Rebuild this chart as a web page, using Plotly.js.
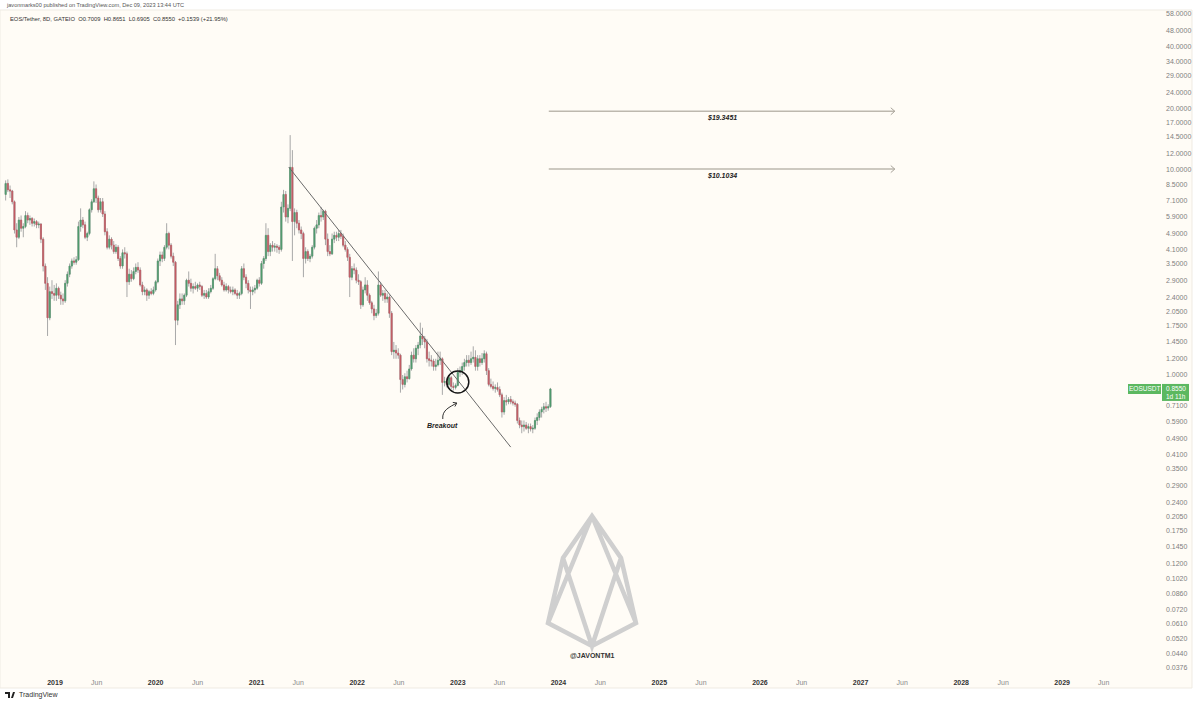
<!DOCTYPE html>
<html>
<head>
<meta charset="utf-8">
<script src="https://cdn.plot.ly/plotly-3.0.1.min.js"></script>
<style>html,body{margin:0;padding:0;background:#fff;}#chart{width:1200px;height:704px;}</style>
</head>
<body>
<div id="chart"></div>
<script>
// ---- data (EOS/USDT, 8D candles, GATEIO) ----
const startDate = '2018-07-06';
const stepDays = 8;
const opens = [7.6,8.6,8.0,7.9,7.0,5.1,4.7,5.7,5.2,5.3,6.0,5.7,5.8,5.5,5.6,5.4,5.45,4.6,3.4,2.8,
1.9,2.55,2.5,2.45,2.65,2.45,2.35,2.3,2.8,3.1,3.4,3.6,3.55,3.65,5.3,5.7,5.4,4.7,4.9,6.4,
7.0,8.1,7.3,6.4,7.0,6.1,5.0,4.2,4.6,4.3,4.0,4.2,3.7,3.4,3.95,3.9,2.85,3.1,2.95,3.2,
3.35,3.25,2.75,2.55,2.6,2.45,2.55,2.5,2.6,2.85,3.6,3.85,3.7,4.2,4.9,4.3,3.8,3.55,1.85,2.2,
2.35,2.3,2.45,2.9,2.8,2.65,2.7,2.65,2.75,2.7,2.45,2.5,2.4,2.55,2.65,2.95,3.3,3.05,2.9,2.75,
2.6,2.7,2.6,2.55,2.6,2.5,2.45,2.5,3.3,3.0,2.8,2.6,2.55,2.6,2.65,2.9,2.8,3.5,3.7,4.8,
4.0,4.3,4.2,4.25,4.2,4.1,6.6,7.6,5.9,6.5,10.3,5.6,6.2,5.5,5.1,4.9,3.7,4.0,3.7,3.8,
4.2,5.2,5.4,6.0,5.9,6.3,4.6,4.0,3.9,4.6,4.8,4.7,4.9,4.75,4.3,4.1,3.75,3.0,3.3,3.25,
2.9,2.85,2.2,2.6,2.75,2.45,2.25,2.1,1.95,2.0,2.75,2.45,2.5,2.35,2.4,2.0,1.3,1.32,1.28,1.25,
0.95,0.9,0.98,0.96,1.07,1.25,1.2,1.35,1.4,1.55,1.5,1.45,1.2,1.18,1.17,1.1,1.12,1.18,1.2,0.92,
0.93,0.9,0.97,0.88,0.87,0.89,1.03,1.05,1.1,1.15,1.18,1.15,1.2,1.22,1.1,1.2,1.15,1.2,1.27,1.05,
0.9,0.88,0.86,0.87,0.85,0.8,0.66,0.75,0.74,0.76,0.74,0.73,0.72,0.6,0.57,0.56,0.57,0.55,0.56,0.545,
0.55,0.6,0.62,0.66,0.68,0.7,0.69,0.7009];
const highs = [8.9,9.0,8.4,8.0,7.1,5.5,5.9,6.0,5.5,6.3,6.2,6.0,5.9,5.8,5.7,5.6,5.5,4.7,3.5,3.0,
2.7,2.9,2.75,2.8,2.7,2.55,2.5,2.9,3.2,3.5,3.7,3.75,3.8,5.6,6.5,5.9,5.6,5.0,6.5,7.2,
8.8,8.5,7.5,7.3,7.3,6.3,5.2,4.8,4.7,4.5,4.35,4.3,3.8,4.1,4.2,4.0,3.3,3.25,3.35,3.5,
3.55,3.35,2.85,2.7,2.65,2.6,2.65,2.7,2.9,3.7,4.0,4.0,4.3,5.5,5.0,4.4,3.95,3.6,2.3,2.5,
2.5,2.5,2.95,3.2,2.95,2.8,2.85,2.8,2.85,2.75,2.6,2.6,2.65,2.75,3.0,3.9,3.4,3.15,3.0,2.85,
2.8,2.75,2.7,2.7,2.65,2.6,2.55,3.4,3.5,3.1,2.9,2.7,2.7,2.75,2.95,3.0,3.6,3.8,5.5,5.2,
4.4,4.5,4.4,4.35,4.3,7.0,8.0,7.9,6.8,14.8,12.5,6.5,6.4,5.7,5.3,5.0,4.2,4.1,3.9,4.3,
5.3,5.7,6.2,6.6,6.4,6.4,4.9,4.3,4.9,5.0,5.0,5.1,5.1,4.9,4.5,4.2,3.9,3.4,3.5,3.35,
3.1,2.9,2.7,3.0,2.9,2.5,2.3,2.2,2.1,3.2,2.85,2.6,2.6,2.5,2.45,2.05,1.45,1.4,1.35,1.27,
1.0,1.02,1.05,1.12,1.3,1.35,1.4,1.45,1.8,1.7,1.55,1.5,1.3,1.25,1.2,1.2,1.3,1.3,1.22,0.98,
0.97,1.0,0.99,0.92,0.91,1.08,1.1,1.15,1.2,1.25,1.25,1.3,1.38,1.32,1.25,1.25,1.28,1.32,1.3,1.08,
0.96,0.93,0.9,0.92,0.88,0.82,0.78,0.8,0.78,0.79,0.76,0.75,0.73,0.62,0.6,0.6,0.59,0.58,0.58,0.57,
0.62,0.65,0.68,0.7,0.73,0.74,0.72,0.8651];
const lows = [7.1,7.8,7.3,6.8,4.9,4.2,4.6,5.0,4.7,5.2,5.5,5.4,5.3,5.3,5.2,5.2,4.4,3.2,2.6,1.55,
1.85,2.35,2.3,2.3,2.35,2.2,2.2,2.25,2.7,3.0,3.3,3.45,3.45,3.6,5.0,5.2,4.6,4.5,4.8,6.2,
6.9,6.9,6.2,6.2,5.9,4.8,4.1,4.1,4.1,3.9,3.9,3.6,3.3,3.3,3.7,2.4,2.75,2.85,2.9,3.1,
3.15,2.7,2.45,2.45,2.3,2.35,2.45,2.45,2.55,2.8,3.4,3.55,3.6,4.1,4.1,3.7,3.4,1.4,1.75,2.1,
2.2,2.2,2.4,2.7,2.55,2.5,2.6,2.55,2.6,2.4,2.35,2.35,2.35,2.5,2.6,2.9,2.9,2.85,2.7,2.55,
2.55,2.5,2.5,2.45,2.45,2.35,2.35,2.45,2.9,2.65,2.5,2.1,2.45,2.5,2.6,2.7,2.75,3.3,3.6,3.8,
3.8,4.0,4.0,3.95,3.9,4.0,6.2,5.6,5.5,6.3,3.6,4.8,5.2,4.9,4.6,3.0,3.5,3.6,3.55,3.7,
4.1,4.9,5.2,5.6,5.7,4.3,3.8,3.8,3.85,4.4,4.5,4.5,4.6,4.2,4.0,3.6,2.4,2.9,3.1,2.8,
2.75,2.1,2.15,2.5,2.3,2.2,2.0,1.85,1.9,1.95,2.4,2.3,2.25,2.25,1.9,1.25,1.2,1.2,1.2,0.82,
0.85,0.87,0.92,0.95,1.05,1.15,1.15,1.25,1.35,1.4,1.35,1.15,1.1,1.1,1.05,1.05,1.1,1.12,0.8,0.88,
0.87,0.88,0.85,0.84,0.85,0.88,0.98,1.0,1.05,1.1,1.1,1.12,1.15,1.05,1.05,1.1,1.12,1.15,1.0,0.88,
0.86,0.84,0.82,0.83,0.78,0.62,0.64,0.71,0.72,0.72,0.71,0.7,0.58,0.55,0.52,0.53,0.54,0.52,0.53,0.52,
0.54,0.57,0.6,0.62,0.65,0.66,0.67,0.6905];
const closes = [8.6,8.0,7.9,7.0,5.1,4.7,5.7,5.2,5.3,6.0,5.7,5.8,5.5,5.6,5.4,5.45,4.6,3.4,2.8,1.9,
2.55,2.5,2.45,2.65,2.45,2.35,2.3,2.8,3.1,3.4,3.6,3.55,3.65,5.3,5.7,5.4,4.7,4.9,6.4,7.0,
8.1,7.3,6.4,7.0,6.1,5.0,4.2,4.6,4.3,4.0,4.2,3.7,3.4,3.95,3.9,2.85,3.1,2.95,3.2,3.35,
3.25,2.75,2.55,2.6,2.45,2.55,2.5,2.6,2.85,3.6,3.85,3.7,4.2,4.9,4.3,3.8,3.55,1.85,2.2,2.35,
2.3,2.45,2.9,2.8,2.65,2.7,2.65,2.75,2.7,2.45,2.5,2.4,2.55,2.65,2.95,3.3,3.05,2.9,2.75,2.6,
2.7,2.6,2.55,2.6,2.5,2.45,2.5,3.3,3.0,2.8,2.6,2.55,2.6,2.65,2.9,2.8,3.5,3.7,4.8,4.0,
4.3,4.2,4.25,4.2,4.1,6.6,7.6,5.9,6.5,10.3,5.6,6.2,5.5,5.1,4.9,3.7,4.0,3.7,3.8,4.2,
5.2,5.4,6.0,5.9,6.3,4.6,4.0,3.9,4.6,4.8,4.7,4.9,4.75,4.3,4.1,3.75,3.0,3.3,3.25,2.9,
2.85,2.2,2.6,2.75,2.45,2.25,2.1,1.95,2.0,2.75,2.45,2.5,2.35,2.4,2.0,1.3,1.32,1.28,1.25,0.95,
0.9,0.98,0.96,1.07,1.25,1.2,1.35,1.4,1.55,1.5,1.45,1.2,1.18,1.17,1.1,1.12,1.18,1.2,0.92,0.93,
0.9,0.97,0.88,0.87,0.89,1.03,1.05,1.1,1.15,1.18,1.15,1.2,1.22,1.1,1.2,1.15,1.2,1.27,1.05,0.9,
0.88,0.86,0.87,0.85,0.8,0.66,0.75,0.74,0.76,0.74,0.73,0.72,0.6,0.57,0.56,0.57,0.55,0.56,0.545,0.55,
0.6,0.62,0.66,0.68,0.7,0.69,0.7009,0.855];

// y-axis price scale labels
const yTicks = [58,48,40,34,29,24,20,17,14.5,12,10,8.5,7.1,5.9,4.9,4.1,3.5,2.9,2.4,2.05,1.75,1.45,1.2,1.0,
0.71,0.59,0.49,0.41,0.35,0.29,0.24,0.205,0.175,0.145,0.12,0.102,0.086,0.072,0.061,0.052,0.044,0.0376];
// time scale labels
const xYears = ['2019','2020','2021','2022','2023','2024','2025','2026','2027','2028','2029'];
const xMonthLabel = 'Jun';

// drawings
const trendDates = ['2021-04-28','2023-07-12'];
const trendPrices = [10.33, 0.445];
const targetLevels = [19.3451, 10.1034];
const targetLabels = ['$19.3451', '$10.1034'];
const targetDates = ['2023-11-27', '2027-05-05'];
const targetLabelDate = '2025-08-15';
const breakoutDate = '2023-01-01';
const breakoutPrice = 0.924;
const breakoutArrowPrice = 0.730;
const breakoutLabelDate = '2022-11-08';
const breakoutLabelPrice = 0.570;
const lastPrice = 0.855;

// ---- build ----
const dates = opens.map((_, i) => new Date(Date.parse(startDate + 'T00:00:00Z') + i * stepDays * 864e5).toISOString().slice(0, 10));
const bodyHigh = opens.map((o, i) => Math.max(o, closes[i]));
const bodyLow = opens.map((o, i) => Math.min(o, closes[i]));

const UP = '#4f9a6c', DOWN = '#c25b63', WICK = '#a8a8a8';
const FONT = 'Liberation Sans, Arial, sans-serif';

const W = 1200, H = 704, ML = 0, MR = 40, MT = 10, MB = 29;
const PW = W - ML - MR, PH = H - MT - MB;
const Y_RANGE = [-1.4634, 1.7805];
const X_RANGE = ['2018-06-15 12:00', '2029-12-22'];
const px = (x) => (x - ML) / PW;             // pixel -> paper x
const py = (y) => (H - MB - y) / PH;         // pixel -> paper y
const pv = (v) => (Math.log10(v) - Y_RANGE[0]) / (Y_RANGE[1] - Y_RANGE[0]);  // price -> paper y
const t0 = Date.parse(X_RANGE[0].replace(' ', 'T') + 'Z'), t1 = Date.parse(X_RANGE[1] + 'T00:00:00Z');
const pd = (d) => (Date.parse(d + 'T00:00:00Z') - t0) / (t1 - t0);         // date -> paper x

const wicks = {
  type: 'candlestick', x: dates, open: opens, high: highs, low: lows, close: closes,
  increasing: {line: {color: WICK, width: 1}, fillcolor: WICK},
  decreasing: {line: {color: WICK, width: 1}, fillcolor: WICK},
  whiskerwidth: 0, hoverinfo: 'skip', showlegend: false
};
const bodies = {
  type: 'candlestick', x: dates, open: opens, high: bodyHigh, low: bodyLow, close: closes,
  increasing: {line: {color: UP, width: 0.6}, fillcolor: UP},
  decreasing: {line: {color: DOWN, width: 0.6}, fillcolor: DOWN},
  whiskerwidth: 0, hoverinfo: 'skip', showlegend: false
};

const tickvals = [], ticktext = [];
xYears.forEach(y => {
  tickvals.push(y + '-01-01'); ticktext.push('<b>' + y + '</b>');
  tickvals.push(y + '-06-01'); ticktext.push('<span style="color:#8a8a8a">' + xMonthLabel + '</span>');
});

const L = Math.log10;  // annotations on a log axis take log10 values; shapes take raw values
const shapes = [
  // chart pane background
  {type: 'rect', xref: 'paper', yref: 'paper', x0: px(0), x1: px(1192), y0: py(688), y1: py(10),
   fillcolor: '#fffcf6', line: {color: '#efebe3', width: 1}, layer: 'below'},
  // trend line
  {type: 'line', xref: 'x', yref: 'y', x0: trendDates[0], y0: trendPrices[0], x1: trendDates[1], y1: trendPrices[1],
   line: {color: '#6a6a6a', width: 1}},
  // breakout circle
  {type: 'circle', xref: 'paper', yref: 'paper', xsizemode: 'pixel', ysizemode: 'pixel',
   xanchor: pd(breakoutDate), yanchor: pv(breakoutPrice), x0: -11, x1: 11, y0: -11, y1: 11,
   line: {color: '#151515', width: 1.5}},
  // breakout curved arrow
  {type: 'path', xref: 'paper', yref: 'paper', xsizemode: 'pixel', ysizemode: 'pixel',
   xanchor: pd(breakoutDate), yanchor: pv(breakoutArrowPrice),
   path: 'M -15 -16 C -16 -7 -8 -4 -1 0 M -5 0.6 L -1 0 L -2.9 -3.5',
   line: {color: '#333', width: 1}},
  // price tag boxes
  {type: 'rect', xref: 'paper', yref: 'paper', ysizemode: 'pixel', yanchor: pv(lastPrice),
   x0: px(1128), x1: px(1161), y0: -5, y1: 5, fillcolor: '#5cb860', line: {width: 0}},
  {type: 'rect', xref: 'paper', yref: 'paper', ysizemode: 'pixel', yanchor: pv(lastPrice),
   x0: px(1162), x1: px(1189), y0: -12, y1: 5, fillcolor: '#5cb860', line: {width: 0}}
];

targetLevels.forEach(v => {
  shapes.push({type: 'line', xref: 'x', yref: 'y', x0: targetDates[0], x1: targetDates[1], y0: v, y1: v,
    line: {color: '#bdb8ae', width: 1.5}});
  shapes.push({type: 'path', xref: 'paper', yref: 'paper', xsizemode: 'pixel', ysizemode: 'pixel',
    xanchor: pd(targetDates[1]), yanchor: pv(v), path: 'M -4 3.5 L 0 0 L -4 -3.5',
    line: {color: '#a8a39a', width: 1}});
});

// EOS logo (decoration, pixel positions)
const P = (x, y) => px(x).toFixed(5) + ' ' + py(y).toFixed(5);
const T = [592, 516], L1 = [563, 558], L2 = [548, 623], B = [592, 646], R2 = [636, 623], R1 = [621, 558];
const logoPath = 'M ' + P(...T) + ' L ' + P(...L1) + ' L ' + P(...L2) + ' L ' + P(...B) + ' L ' + P(...R2) + ' L ' + P(...R1) + ' Z' +
  ' M ' + P(...L1) + ' L ' + P(...B) + ' L ' + P(...R1) +
  ' M ' + P(...T) + ' L ' + P(...L2) + ' M ' + P(...T) + ' L ' + P(...R2);
shapes.push({type: 'path', xref: 'paper', yref: 'paper', path: logoPath,
  line: {color: '#cfcfcf', width: 4.5}, layer: 'below'});

// TradingView logo glyph (decoration)
shapes.push({type: 'path', xref: 'paper', yref: 'paper',
  path: 'M ' + P(5, 692) + ' L ' + P(10, 692) + ' L ' + P(10, 698) + ' L ' + P(8, 698) + ' L ' + P(8, 694) + ' L ' + P(5, 694) + ' Z' +
        ' M ' + P(11, 698) + ' L ' + P(13, 692) + ' L ' + P(15, 692) + ' L ' + P(13, 698) + ' Z',
  fillcolor: '#222', line: {width: 0}});

const annotations = [
  {xref: 'paper', yref: 'paper', x: px(4), y: py(5), xanchor: 'left', yanchor: 'middle', showarrow: false,
   text: 'javonmarks00 published on TradingView.com, Dec 09, 2023 13:44 UTC', font: {size: 5.6, color: '#555'}},
  {xref: 'paper', yref: 'paper', x: px(8), y: py(19), xanchor: 'left', yanchor: 'middle', showarrow: false,
   text: 'EOS/Tether, 8D, GATEIO  O0.7009  H0.8651  L0.6905  C0.8550  +0.1539 (+21.95%)', font: {size: 5.8, color: '#333'}},
  {xref: 'paper', yref: 'paper', x: px(17), y: py(695), xanchor: 'left', yanchor: 'middle', showarrow: false,
   text: 'TradingView', font: {size: 7, color: '#333'}},
  {xref: 'x', yref: 'y', x: breakoutLabelDate, y: L(breakoutLabelPrice), showarrow: false, xanchor: 'center',
   text: '<b><i>Breakout</i></b>', font: {size: 7, color: '#222'}},
  {xref: 'paper', yref: 'paper', x: px(592), y: py(661), showarrow: false, xanchor: 'center',
   text: '<b>@JAVONTM1</b>', font: {size: 7, color: '#333'}},
  {xref: 'paper', yref: 'y', x: px(1144.5), y: L(lastPrice), showarrow: false, xanchor: 'center', yanchor: 'middle',
   text: 'EOSUSDT', font: {size: 6.5, color: '#ffffff'}},
  {xref: 'paper', yref: 'y', x: px(1175.5), y: L(lastPrice), showarrow: false, xanchor: 'center', yanchor: 'middle',
   text: lastPrice.toFixed(4), font: {size: 6.5, color: '#ffffff'}},
  {xref: 'paper', yref: 'y', x: px(1175.5), y: L(lastPrice), yshift: -8, showarrow: false, xanchor: 'center', yanchor: 'middle',
   text: '1d 11h', font: {size: 6.5, color: '#ffffff'}}
];
targetLevels.forEach((v, i) => {
  annotations.push({xref: 'x', yref: 'y', x: targetLabelDate, y: L(v), yshift: -6, showarrow: false, xanchor: 'center', yanchor: 'middle',
    text: '<b><i>' + targetLabels[i] + '</i></b>', font: {size: 7, color: '#222'}});
});

const layout = {
  width: W, height: H,
  margin: {l: ML, r: MR, t: MT, b: MB, pad: 0},
  paper_bgcolor: '#ffffff', plot_bgcolor: 'rgba(0,0,0,0)',
  font: {family: FONT, size: 7, color: '#333'},
  showlegend: false, hovermode: false,
  xaxis: {type: 'date', range: X_RANGE, showgrid: false, zeroline: false, showline: false,
    ticks: '', tickvals: tickvals, ticktext: ticktext, tickfont: {size: 7, color: '#333'},
    rangeslider: {visible: false}, fixedrange: true, ticklabelstandoff: 2},
  yaxis: {type: 'log', side: 'right', range: Y_RANGE, showgrid: false, zeroline: false, showline: false,
    ticks: '', tickvals: yTicks, tickformat: '.4f', tickfont: {size: 7, color: '#7f7f7f'}, fixedrange: true,
    ticklabelstandoff: 5},
  shapes: shapes,
  annotations: annotations
};

Plotly.newPlot('chart', [wicks, bodies], layout, {staticPlot: true, displayModeBar: false});
</script>
</body>
</html>
